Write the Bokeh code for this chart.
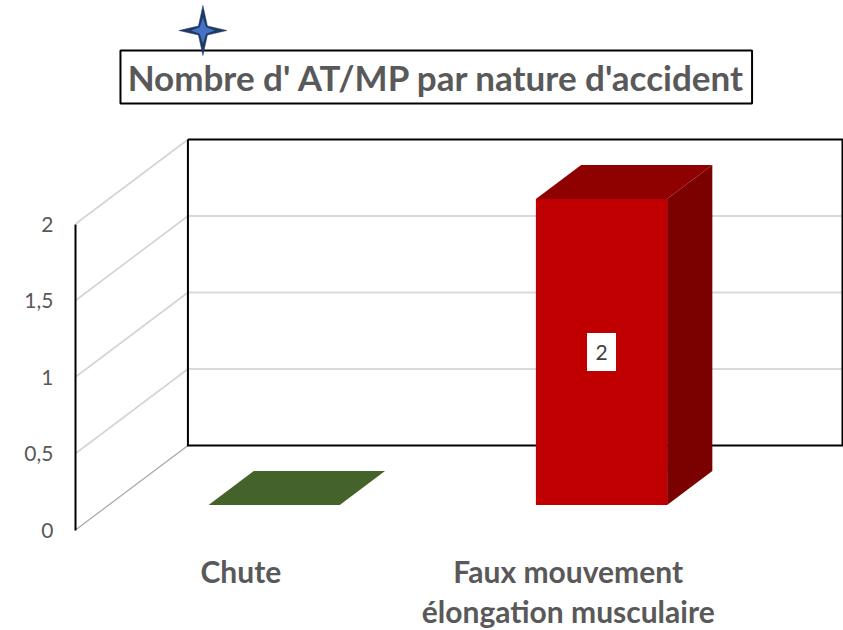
from bokeh.plotting import figure
from bokeh.models import Range1d, LinearAxis, FixedTicker
from bokeh.core.properties import value
from bokeh.embed import file_html
from bokeh.resources import INLINE

# --- data ---
categories = ["Chute", "Faux mouvement\nélongation musculaire"]
counts = [0, 2]
bar_colors = ["#43632A", "#C00000"]
top_colors = ["#43632A", "#8F0000"]
side_colors = ["#43632A", "#7B0000"]
tick_values = [0, 0.5, 1, 1.5, 2]
tick_labels = ["0", "0,5", "1", "1,5", "2"]
chart_title = "Nombre d' AT/MP par nature d'accident"

# --- layout (screen pixels, window coordinates) ---
W, H = 843, 630
AXIS_PX = 74.5
PX_PER_CAT = 327.55
CAT0_PX = 240
ZERO_PX = 529.5
PX_PER_UNIT = 153
DEPTH_DX = 112.5 / PX_PER_CAT
DEPTH_DY = 84.5 / PX_PER_UNIT
BAR_W = 131.3 / PX_PER_CAT
D0, D1 = 25 / 84.5, 59 / 84.5


def X(px):
    return (px - CAT0_PX) / PX_PER_CAT


def Y(py):
    return (ZERO_PX - py) / PX_PER_UNIT


def proj(x, v, d):
    return x + d * DEPTH_DX, v + d * DEPTH_DY


p = figure(width=W, height=H, output_backend="svg", toolbar_location=None,
           x_range=Range1d(X(AXIS_PX), X(W)),
           y_range=Range1d(Y(H), Y(0)),
           x_axis_location=None, y_axis_location=None,
           min_border_left=75, min_border_right=0,
           min_border_top=0, min_border_bottom=0)
p.outline_line_color = None
p.grid.visible = False
p.background_fill_color = "white"
p.border_fill_color = "white"

# value axis on the front edge
ax = LinearAxis(ticker=FixedTicker(ticks=tick_values), bounds=(0, 2))
ax.major_label_overrides = {t: s for t, s in zip(tick_values, tick_labels)}
ax.major_tick_line_color = None
ax.minor_tick_line_color = None
ax.axis_line_color = "#000000"
ax.axis_line_width = 2
ax.major_label_text_font = "Lato"
ax.major_label_text_font_size = "21px"
ax.major_label_text_color = "#595959"
ax.major_label_standoff = 16
p.add_layout(ax, "left")

x_left = X(AXIS_PX)
wall_left = x_left + DEPTH_DX
wall_right = X(W - 1)

# side wall diagonals
for t in tick_values:
    xb, yb = proj(x_left, t, 1)
    p.line([x_left, xb], [t, yb], line_color="#A6A6A6" if t == 0 else "#D4D4D4",
           line_width=1.2 if t == 0 else 1.6)

# back wall grid lines
for t in tick_values[1:-1]:
    _, yb = proj(x_left, t, 1)
    p.line([wall_left, wall_right], [yb, yb], line_color="#D9D9D9", line_width=2)

# back wall frame
_, wall_bot = proj(x_left, 0, 1)
_, wall_top = proj(x_left, max(tick_values), 1)
p.line([wall_left, wall_left, wall_right, wall_right, wall_left],
       [wall_top, wall_bot, wall_bot, wall_top, wall_top],
       line_color="#000000", line_width=2, line_join="miter")

# 3D bars
for i, (v, fc, tc, sc) in enumerate(zip(counts, bar_colors, top_colors, side_colors)):
    x0, x1 = i - BAR_W / 2, i + BAR_W / 2
    ax0, ay0 = proj(x0, 0, D0)
    ax1, ay1 = proj(x1, 0, D0)
    bx0, by0 = proj(x0, 0, D1)
    bx1, by1 = proj(x1, 0, D1)
    p.patch([ax1, bx1, bx1, ax1], [ay1, by1, by1 + v, ay1 + v], color=sc, line_width=0)
    p.patch([ax0, ax1, bx1, bx0], [ay0 + v, ay1 + v, by1 + v, by0 + v], color=tc, line_width=0)
    p.quad(left=ax0, right=ax1, bottom=ay0, top=ay0 + v, color=fc, line_width=0)
    if v:
        cx = (ax0 + ax1) / 2
        cy = ay0 + v / 2
        p.quad(left=cx - 14.5 / PX_PER_CAT, right=cx + 14.5 / PX_PER_CAT,
               bottom=cy - 19 / PX_PER_UNIT, top=cy + 19 / PX_PER_UNIT,
               color="white", line_width=0)
        p.text([cx], [cy], text=[str(v)], text_align="center", text_baseline="middle",
               text_font=value("Lato"), text_font_size="21px", text_color="#404040")

# category labels
p.text(list(range(len(categories))), [Y(552)] * len(categories), text=categories,
       text_align="center", text_baseline="top", text_font=value("Lato"),
       text_font_style="bold", text_font_size="30px", text_color="#595959",
       text_line_height=1.12)

# title box and title
p.quad(left=X(119.5), right=X(751.5), top=Y(50), bottom=Y(103),
       fill_color="white", line_color="#000000", line_width=2)
p.text([X(436)], [Y(76.5)], text=[chart_title], text_align="center", text_baseline="middle",
       text_font=value("Lato"), text_font_style="bold", text_font_size="35px",
       text_color="#595959")


# star decoration
def star(cx, cy, rx, ry, inner):
    xs = [cx, cx + inner, cx + rx, cx + inner, cx, cx - inner, cx - rx, cx - inner]
    ys = [cy - ry, cy - inner, cy, cy + inner, cy + ry, cy + inner, cy, cy - inner]
    return [X(a) for a in xs], [Y(b) for b in ys]


sx, sy = star(202, 30, 24, 25, 4.5)
p.patch(sx, sy, fill_color="#1F3864", line_color="#1F3864", line_width=0.5)
sx, sy = star(202, 30, 12, 13, 3.2)
p.patch(sx, sy, fill_color="#4472C4", line_color=None)

open("out.html", "w").write(file_html(p, INLINE))
